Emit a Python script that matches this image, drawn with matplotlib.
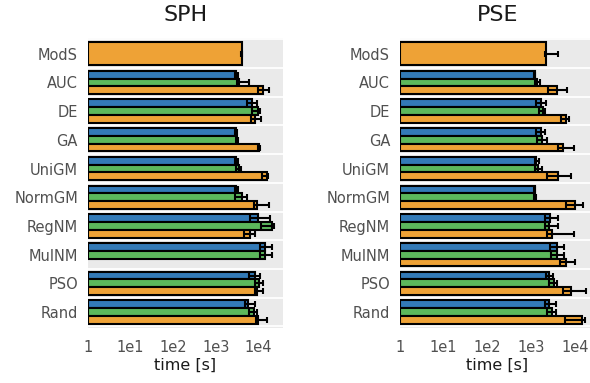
import matplotlib
matplotlib.use("Agg")
import matplotlib.pyplot as plt
import numpy as np

# times are log10(seconds); lo/hi are the ends of the error bars
methods = ['AUC', 'DE', 'GA', 'UniGM', 'NormGM', 'RegNM', 'MulNM', 'PSO', 'Rand']
rows = ['ModS'] + methods

sph_mods = [3.61, 3.60, 3.62]
sph_blue = [3.48, 3.85, 3.48, 3.48, 3.47, 4.00, 4.16, 3.93, 3.75]
sph_blue_lo = [3.45, 3.73, 3.46, 3.46, 3.44, 3.80, 4.03, 3.78, 3.69]
sph_blue_hi = [3.51, 3.96, 3.50, 3.51, 3.51, 4.28, 4.32, 4.04, 3.93]
sph_green = [3.54, 4.00, 3.49, 3.54, 3.62, 4.32, 4.16, 4.01, 3.90]
sph_green_lo = [3.50, 3.85, 3.47, 3.48, 3.45, 4.07, 4.03, 3.93, 3.78]
sph_green_hi = [3.79, 4.04, 3.51, 3.60, 3.72, 4.36, 4.32, 4.11, 3.96]
sph_orange = [4.11, 3.91, 4.01, 4.20, 3.96, 3.81, np.nan, 3.97, 4.00]
sph_orange_lo = [4.00, 3.83, 4.00, 4.09, 3.89, 3.65, np.nan, 3.93, 3.95]
sph_orange_hi = [4.24, 4.07, 4.03, 4.23, 4.25, 3.93, np.nan, 4.10, 4.20]

pse_mods = [3.33, 3.31, 3.60]
pse_blue = [3.07, 3.22, 3.22, 3.11, 3.07, 3.42, 3.59, 3.40, 3.41]
pse_blue_lo = [3.05, 3.10, 3.10, 3.07, 3.05, 3.30, 3.43, 3.34, 3.32]
pse_blue_hi = [3.09, 3.33, 3.31, 3.18, 3.09, 3.60, 3.74, 3.50, 3.56]
pse_green = [3.12, 3.27, 3.25, 3.14, 3.08, 3.39, 3.58, 3.52, 3.46]
pse_green_lo = [3.07, 3.18, 3.13, 3.08, 3.06, 3.30, 3.44, 3.41, 3.36]
pse_green_hi = [3.19, 3.32, 3.36, 3.24, 3.10, 3.61, 3.74, 3.59, 3.56]
pse_orange = [3.58, 3.78, 3.73, 3.60, 4.00, 3.47, 3.79, 3.89, 4.16]
pse_orange_lo = [3.37, 3.67, 3.60, 3.35, 3.79, 3.35, 3.64, 3.71, 3.77]
pse_orange_hi = [3.80, 3.86, 3.96, 3.90, 4.17, 3.98, 4.00, 4.24, 4.21]

tick_pos = [0, 1, 2, 3, 4]
tick_labels = ['1', '1e1', '1e2', '1e3', '1e4']

BLUE = '#337ab7'
GREEN = '#5cb85c'
ORANGE = '#eea236'
BG = '#eaeaea'
TXT = '#505050'


def hbar(ax, y, val, lo, hi, height, color):
    val = np.asarray(val, dtype=float)
    err = np.vstack([val - np.asarray(lo, dtype=float), np.asarray(hi, dtype=float) - val])
    ax.barh(y, val, height=height, color=color, edgecolor='black', linewidth=1.5, zorder=2)
    ax.errorbar(val, y, xerr=err, fmt='none', ecolor='black', elinewidth=1.5,
                capsize=2, capthick=1.5, zorder=3)


def panel(ax, title, mods, blue, blue_lo, blue_hi, green, green_lo, green_hi,
          orange, orange_lo, orange_hi):
    h = 0.27
    y = np.arange(1, len(methods) + 1)
    hbar(ax, [0], [mods[0]], [mods[1]], [mods[2]], 3 * h, ORANGE)
    hbar(ax, y - h, blue, blue_lo, blue_hi, h, BLUE)
    hbar(ax, y, green, green_lo, green_hi, h, GREEN)
    hbar(ax, y + h, orange, orange_lo, orange_hi, h, ORANGE)

    ax.set_facecolor(BG)
    for s in ax.spines.values():
        s.set_visible(False)
    ax.set_ylim(len(rows) - 0.45, -0.55)
    ax.set_yticks(np.arange(len(rows)))
    ax.set_yticklabels(rows)
    ax.set_yticks(np.arange(len(rows) + 1) - 0.5, minor=True)
    ax.grid(which='minor', axis='y', color='white', linewidth=1.3, zorder=1)
    ax.set_axisbelow(True)
    ax.set_xticks(tick_pos)
    ax.set_xticklabels(tick_labels)
    ax.tick_params(which='both', length=0, labelsize=10.5, labelcolor=TXT)
    ax.tick_params(axis='x', pad=9)
    ax.tick_params(axis='y', pad=7)
    ax.set_xlabel('time [s]', fontsize=11.5, color='.1', labelpad=2)
    ax.set_title(title, fontsize=16, color='.1', pad=12)


fig = plt.figure(figsize=(5.9, 3.83), dpi=100)
ax1 = fig.add_axes([0.1486, 0.144, 0.3313, 0.757])
ax2 = fig.add_axes([0.6775, 0.144, 0.3313, 0.757])

panel(ax1, 'SPH', sph_mods, sph_blue, sph_blue_lo, sph_blue_hi,
      sph_green, sph_green_lo, sph_green_hi, sph_orange, sph_orange_lo, sph_orange_hi)
panel(ax2, 'PSE', pse_mods, pse_blue, pse_blue_lo, pse_blue_hi,
      pse_green, pse_green_lo, pse_green_hi, pse_orange, pse_orange_lo, pse_orange_hi)

fig.savefig('out.png', dpi=100)
